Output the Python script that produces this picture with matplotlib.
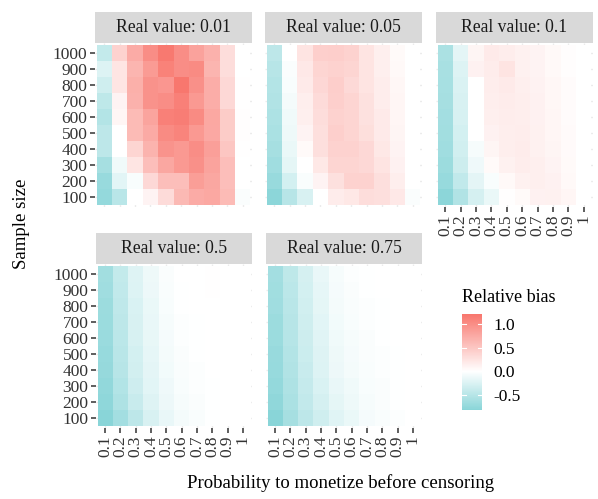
import numpy as np
import matplotlib
matplotlib.use("Agg")
import matplotlib.pyplot as plt
from matplotlib.colors import LinearSegmentedColormap, Normalize

plt.rcParams['font.family'] = ['Liberation Serif', 'DejaVu Serif']

prob = [0.1, 0.2, 0.3, 0.4, 0.5, 0.6, 0.7, 0.8, 0.9, 1]
sizes = [100, 200, 300, 400, 500, 600, 700, 800, 900, 1000]
real_values = ['0.01', '0.05', '0.1', '0.5', '0.75']

# relative bias, one list per probability, sample size 1000 -> 100
bias_001 = [
    [-0.41, -0.24, -0.33, -0.45, -0.52, -0.46, -0.46, -0.62, -0.71, -0.74],
    [0.40, 0.23, 0.23, 0.10, 0.08, 0.00, 0.00, -0.10, -0.20, -0.48],
    [0.74, 0.65, 0.70, 0.68, 0.60, 0.60, 0.37, 0.23, -0.05, 0.00],
    [1.00, 0.88, 0.96, 0.96, 0.80, 0.75, 0.67, 0.57, 0.34, 0.10],
    [1.18, 1.10, 0.92, 1.00, 1.12, 1.02, 0.95, 0.78, 0.57, 0.32],
    [1.00, 1.00, 1.20, 1.12, 1.14, 1.08, 0.90, 0.90, 0.57, 0.62],
    [0.82, 1.02, 0.98, 0.90, 1.02, 0.90, 1.00, 0.98, 0.86, 0.74],
    [0.68, 0.65, 0.72, 0.72, 0.77, 0.76, 0.84, 0.81, 0.78, 0.77],
    [0.30, 0.30, 0.34, 0.34, 0.45, 0.45, 0.50, 0.57, 0.57, 0.60],
    [0.00, 0.00, 0.01, 0.01, 0.02, 0.02, 0.01, 0.00, 0.00, -0.03],
]
bias_005 = [
    [-0.46, -0.50, -0.52, -0.54, -0.57, -0.59, -0.62, -0.66, -0.71, -0.79],
    [0.00, -0.03, -0.05, -0.08, -0.10, -0.12, -0.14, -0.18, -0.30, -0.50],
    [0.24, 0.20, 0.18, 0.15, 0.14, 0.10, 0.05, 0.00, -0.04, -0.27],
    [0.42, 0.37, 0.35, 0.32, 0.30, 0.28, 0.28, 0.21, 0.10, 0.00],
    [0.43, 0.40, 0.43, 0.42, 0.40, 0.42, 0.40, 0.37, 0.27, 0.17],
    [0.40, 0.37, 0.33, 0.37, 0.37, 0.37, 0.40, 0.37, 0.40, 0.21],
    [0.24, 0.24, 0.24, 0.26, 0.26, 0.29, 0.34, 0.34, 0.40, 0.30],
    [0.14, 0.14, 0.16, 0.16, 0.18, 0.18, 0.21, 0.24, 0.28, 0.28],
    [0.05, 0.06, 0.07, 0.08, 0.08, 0.09, 0.10, 0.12, 0.15, 0.20],
    [0.00, 0.00, 0.00, 0.00, 0.00, 0.00, 0.00, 0.00, 0.00, -0.03],
]
bias_01 = [
    [-0.58, -0.60, -0.61, -0.62, -0.63, -0.64, -0.66, -0.68, -0.72, -0.79],
    [-0.19, -0.24, -0.25, -0.27, -0.28, -0.30, -0.32, -0.35, -0.43, -0.54],
    [0.09, 0.12, 0.00, 0.00, 0.00, 0.00, -0.06, -0.11, -0.19, -0.29],
    [0.18, 0.17, 0.16, 0.15, 0.14, 0.12, 0.09, 0.05, -0.05, -0.14],
    [0.16, 0.24, 0.18, 0.17, 0.16, 0.15, 0.15, 0.13, 0.06, 0.01],
    [0.13, 0.13, 0.14, 0.15, 0.15, 0.16, 0.17, 0.16, 0.13, 0.05],
    [0.10, 0.10, 0.11, 0.12, 0.12, 0.13, 0.13, 0.14, 0.14, 0.12],
    [0.06, 0.06, 0.07, 0.07, 0.08, 0.08, 0.09, 0.10, 0.12, 0.13],
    [0.02, 0.02, 0.03, 0.03, 0.03, 0.04, 0.04, 0.05, 0.06, 0.08],
    [0.00, 0.00, 0.00, 0.00, 0.00, 0.00, 0.00, 0.00, 0.00, 0.00],
]
bias_05 = [
    [-0.64, -0.66, -0.68, -0.69, -0.70, -0.72, -0.73, -0.75, -0.78, -0.82],
    [-0.41, -0.43, -0.44, -0.46, -0.47, -0.48, -0.50, -0.53, -0.56, -0.63],
    [-0.23, -0.24, -0.26, -0.27, -0.28, -0.30, -0.31, -0.34, -0.38, -0.46],
    [-0.12, -0.13, -0.14, -0.15, -0.16, -0.17, -0.19, -0.20, -0.23, -0.27],
    [-0.03, -0.04, -0.05, -0.06, -0.07, -0.08, -0.09, -0.11, -0.13, -0.15],
    [0.00, -0.01, -0.01, -0.02, -0.02, -0.03, -0.04, -0.05, -0.06, -0.08],
    [0.00, 0.00, 0.00, -0.01, -0.01, -0.01, -0.02, -0.02, -0.03, -0.04],
    [0.01, 0.01, 0.00, 0.00, 0.00, 0.00, 0.00, -0.01, -0.01, -0.01],
    [0.00, 0.00, 0.00, 0.00, 0.00, 0.00, 0.00, 0.00, 0.00, 0.00],
    [0.00, 0.00, 0.00, 0.00, 0.00, 0.00, 0.00, 0.00, 0.00, 0.00],
]
bias_075 = [
    [-0.63, -0.65, -0.66, -0.68, -0.69, -0.71, -0.72, -0.74, -0.77, -0.82],
    [-0.45, -0.47, -0.48, -0.50, -0.51, -0.52, -0.54, -0.56, -0.58, -0.62],
    [-0.29, -0.30, -0.32, -0.33, -0.35, -0.36, -0.38, -0.40, -0.42, -0.46],
    [-0.15, -0.17, -0.18, -0.20, -0.21, -0.23, -0.24, -0.26, -0.29, -0.33],
    [-0.06, -0.07, -0.08, -0.09, -0.10, -0.12, -0.13, -0.15, -0.18, -0.21],
    [-0.02, -0.03, -0.04, -0.05, -0.06, -0.07, -0.08, -0.10, -0.12, -0.14],
    [-0.01, -0.01, -0.02, -0.02, -0.03, -0.03, -0.04, -0.05, -0.06, -0.07],
    [0.00, 0.00, -0.01, -0.01, -0.01, -0.02, -0.02, -0.03, -0.03, -0.04],
    [0.00, 0.00, 0.00, 0.00, 0.00, -0.01, -0.01, -0.01, -0.01, -0.02],
    [0.00, 0.00, 0.00, 0.00, 0.00, 0.00, 0.00, 0.00, 0.00, 0.00],
]
all_bias = [bias_001, bias_005, bias_01, bias_05, bias_075]

vmin, vmax = -0.82, 1.21
cmap = LinearSegmentedColormap.from_list(
    'bias', [(0, '#89D5D8'), (-vmin / (vmax - vmin), 'white'), (1, '#F8766D')])
norm = Normalize(vmin=vmin, vmax=vmax)

W, H = 598, 499
fig = plt.figure(figsize=(W / 100, H / 100), dpi=100)

# panel boxes in pixels: left, top, right, bottom
boxes = [(95, 43, 252, 207), (265, 43, 422, 207), (436, 43, 593, 207),
         (96, 264, 252, 428), (266, 264, 422, 428)]
strip_h = 31

x_edges = np.arange(0.05, 1.06, 0.1)
y_edges = np.arange(50, 1051, 100)

for i, (l, t, r, b) in enumerate(boxes):
    ax = fig.add_axes([l / W, 1 - b / H, (r - l) / W, (b - t) / H])
    z = np.array(all_bias[i]).T[::-1]  # rows: sample size ascending
    ax.grid(True, color='#EBEBEB', linestyle='--', linewidth=1)
    ax.set_axisbelow(True)
    ax.pcolormesh(x_edges, y_edges, z, cmap=cmap, norm=norm, zorder=2)
    ax.set_xlim(0.04, 1.06)
    ax.set_ylim(40, 1060)
    for s in ax.spines.values():
        s.set_visible(False)
    ax.set_xticks(prob)
    ax.set_yticks(sizes)
    ax.tick_params(length=3.5, width=1.1, color='#333333', labelsize=12.5,
                   labelcolor='#333333', pad=2)
    if i in (0, 3):
        ax.set_yticklabels([str(s) for s in sizes])
    else:
        ax.tick_params(axis='y', left=False, labelleft=False)
    if i in (2, 3, 4):
        ax.set_xticklabels([str(p) for p in prob], rotation=90)
    else:
        ax.tick_params(axis='x', bottom=False, labelbottom=False)
    # facet strip
    sax = fig.add_axes([l / W, 1 - t / H, (r - l) / W, strip_h / H])
    sax.set_facecolor('#D9D9D9')
    sax.set_xticks([])
    sax.set_yticks([])
    for s in sax.spines.values():
        s.set_visible(False)
    sax.text(0.5, 0.5, 'Real value: ' + real_values[i], ha='center', va='center',
             fontsize=12.7, color='#1A1A1A', transform=sax.transAxes)

fig.text(22 / W, 1 - 224 / H, 'Sample size', rotation=90, ha='center',
         va='center', fontsize=13.5)
fig.text(341 / W, 1 - 483 / H, 'Probability to monetize before censoring',
         ha='center', va='center', fontsize=13.5)

# colour bar
cax = fig.add_axes([462 / W, 1 - 410 / H, 20 / W, 96 / H])
sm = plt.cm.ScalarMappable(norm=norm, cmap=cmap)
cb = fig.colorbar(sm, cax=cax, ticks=[-0.5, 0.0, 0.5, 1.0])
cb.outline.set_visible(False)
cb.ax.set_yticklabels(['-0.5', '0.0', '0.5', '1.0'])
cb.ax.tick_params(length=0, labelsize=12.5, pad=8)
for v in [-0.5, 0.0, 0.5, 1.0]:
    cax.plot([0, 0.2], [v, v], color='white', lw=0.8)
    cax.plot([0.8, 1.0], [v, v], color='white', lw=0.8)
cax.set_xlim(0, 1)
fig.text(462 / W, 1 - 297 / H, 'Relative bias', ha='left', va='center',
         fontsize=13)

fig.savefig('out.png', dpi=100)
